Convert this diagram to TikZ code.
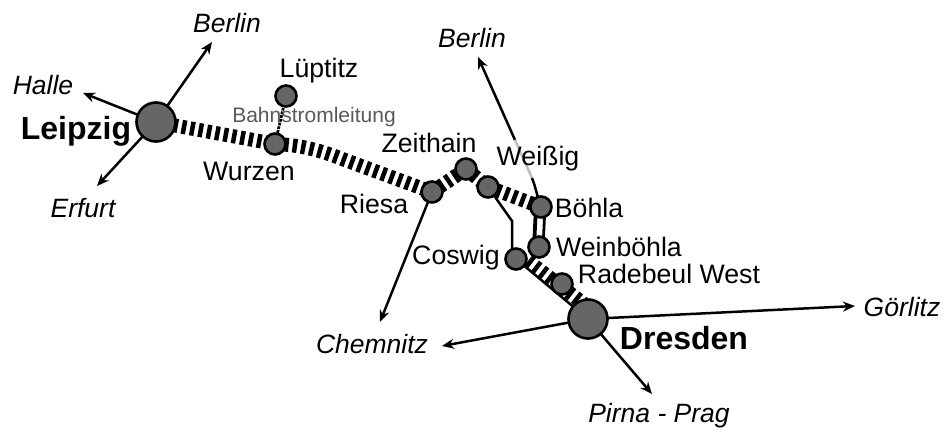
\documentclass[tikz,border=0pt]{standalone}
\usepackage{fontspec}
\setmainfont{Liberation Sans}
\usetikzlibrary{arrows.meta}
\tikzset{
    big/.style={circle,draw,line width=2.6pt,fill=black!60,minimum size=39pt,inner sep=0pt},
    halt/.style={circle,draw,line width=2.6pt,fill=black!60,minimum size=21pt,inner sep=0pt},
    stadt/.style={inner sep=0pt,font=\fontsize{32}{32}\selectfont\bfseries},
    ort/.style={inner sep=0pt,font=\fontsize{26.7}{27}\selectfont},
    ziel/.style={inner sep=0pt,font=\fontsize{26.5}{27}\selectfont\itshape},
    pfeil/.style={-{Stealth[length=12pt,width=10pt]},line width=2.5pt},
    strecke/.style={line width=2.5pt},
    ausbau/.style={line width=14pt,dash pattern=on 4.5pt off 4pt}
}
\begin{document}
\begin{tikzpicture}[x=1pt,y=-1pt]
    \useasboundingbox (0,0) rectangle (946,430);
    \node[circle,inner sep=0pt] (lpz) at (156,122) {};
    \node[circle,inner sep=0pt] (dd) at (588,319) {};
    \node[circle,inner sep=0pt] (lue) at (286,96) {};
    \node[circle,inner sep=0pt] (wur) at (275,144) {};
    \node[circle,inner sep=0pt] (rie) at (432,192) {};
    \node[circle,inner sep=0pt] (zei) at (466,169) {};
    \node[circle,inner sep=0pt] (wei) at (488,187) {};
    \node[circle,inner sep=0pt] (boe) at (541,207) {};
    \node[circle,inner sep=0pt] (wbo) at (539,247) {};
    \node[circle,inner sep=0pt] (cos) at (516,259) {};
    \node[circle,inner sep=0pt] (rad) at (562,284) {};
    \coordinate (knick) at (512,221);
    \coordinate (knickb) at (512,250);

    % Ziele
    \node[ziel] (berlina) at (227,23) {Berlin};
    \node[ziel] (halle) at (43,85) {Halle};
    \node[ziel] (erfurt) at (83,208) {Erfurt};
    \node[ziel] (berlinb) at (472,38) {Berlin};
    \node[ziel] (chemnitz) at (372,344) {Chemnitz};
    \node[ziel] (goerlitz) at (902,307) {Görlitz};
    \node[ziel] (prag) at (659,416) {Pirna - Prag};
    \coordinate (pberlina) at (212,42);
    \coordinate (phalle) at (83,93);
    \coordinate (perfurt) at (97,186);
    \coordinate (pberlinb) at (478,57);
    \coordinate (pchemnitza) at (380,322);
    \coordinate (pchemnitzb) at (442,346);
    \coordinate (pgoerlitz) at (855,306);
    \coordinate (pprag) at (652,394);
    \coordinate (bgrau) at (515,140);
    \coordinate (egrau) at (532,178);
    \coordinate (hatch) at (528,261);
    \coordinate (hatchend) at (588,307);

    \draw[pfeil] (lpz) -- (pberlina);
    \draw[pfeil] (lpz) -- (phalle);
    \draw[pfeil] (lpz) -- (perfurt);
    \draw[pfeil] (rie) -- (pchemnitza);
    \draw[pfeil] (dd) -- (pchemnitzb);
    \draw[pfeil] (dd) -- (pgoerlitz);
    \draw[pfeil] (dd) -- (pprag);
    \draw[pfeil] (bgrau) -- (pberlinb);
    \draw[strecke,black!25] (bgrau) -- (egrau);
    \draw[strecke] (egrau) .. controls (535,185) and (536,192) .. (boe);

    % Strecken
    \draw[line width=2.8pt,densely dotted] (lue) -- (wur);
    \draw[ausbau] (lpz) -- (wur) .. controls (300,145) and (320,150) .. (345,160) -- (rie) -- (zei) -- (wei) -- (boe);
    \draw[ausbau] (hatch) -- (hatchend);
    \draw[strecke] (wei) -- (knick) -- (knickb) -- (cos) -- (dd);
    \draw[line width=3.8pt] ([xshift=-5pt]boe.center) -- ([xshift=-5pt]wbo.center);
    \draw[line width=2.8pt] ([xshift=4pt]boe.center) -- ([xshift=4pt]wbo.center);

    \node[big] at (lpz) {};
    \node[big] at (dd) {};
    \foreach \n in {lue,wur,rie,zei,wei,boe,wbo,cos,rad}
        \node[halt] at (\n) {};

    \node[ort] (tlue) at (319,71) {Lüptitz};
    \node[ort] (twur) at (249,171) {Wurzen};
    \node[ort] (trie) at (374,204) {Riesa};
    \node[ort] (tzei) at (429,143) {Zeithain};
    \node[ort] (twei) at (538,159) {Weißig};
    \node[ort] (tboe) at (589,208) {Böhla};
    \node[ort] (twbo) at (619,247) {Weinböhla};
    \node[ort] (tcos) at (456,258) {Coswig};
    \node[ort] (trad) at (669,274) {Radebeul West};
    \node[inner sep=0pt,text=black!65,font=\fontsize{21}{21}\selectfont] (tbahn) at (314,117) {Bahnstromleitung};
    \node[stadt] (tlpz) at (76,131) {Leipzig};
    \node[stadt] (tdd) at (684,338) {Dresden};
\end{tikzpicture}
\end{document}
